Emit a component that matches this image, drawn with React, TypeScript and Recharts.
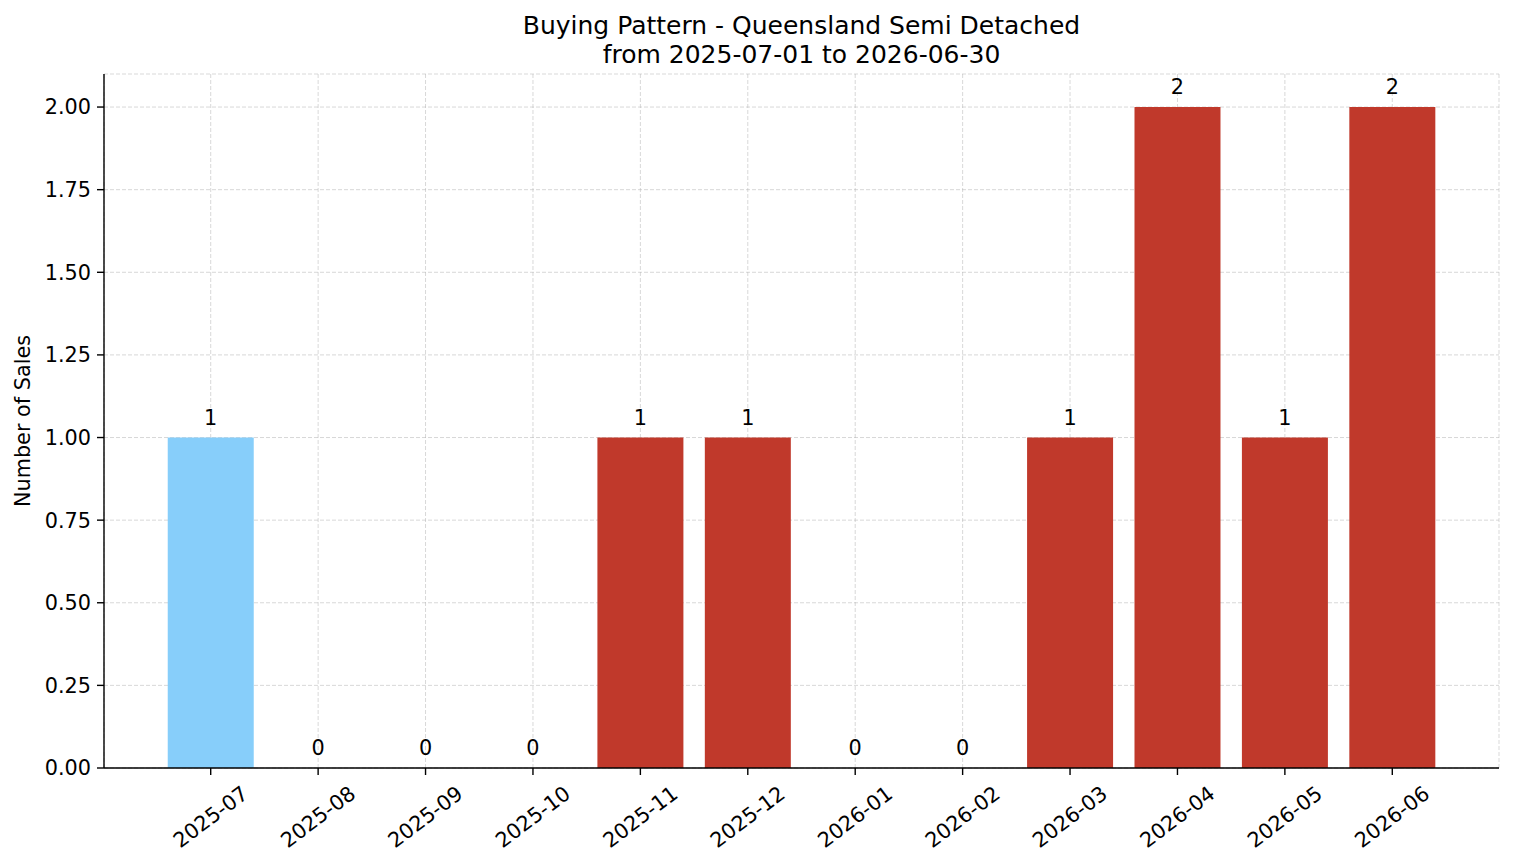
import { ComposedChart, Bar, Line, XAxis, YAxis, CartesianGrid, Cell, LabelList, Label } from 'recharts';

// monthly sales counts
const months = [
  '2025-07', '2025-08', '2025-09', '2025-10', '2025-11', '2025-12',
  '2026-01', '2026-02', '2026-03', '2026-04', '2026-05', '2026-06',
];
const sales = [1, 0, 0, 0, 1, 1, 0, 0, 1, 2, 1, 2];
const yTicks = [0, 0.25, 0.5, 0.75, 1, 1.25, 1.5, 1.75, 2];
const highlightMonth = '2025-07';

const data = months.map((month, i) => ({ month, sales: sales[i] }));

const FONT = '"DejaVu Sans", sans-serif';
const FS = 20.8;
const RED = '#C0392B';
const BLUE = '#87CEFA';

function RotatedTick(props: any) {
  const { x, y, payload } = props;
  const cy = y + 40;
  return (
    <text
      x={x}
      y={cy}
      textAnchor="middle"
      dominantBaseline="central"
      transform={`rotate(-37 ${x} ${cy})`}
      fontSize={FS}
      fontFamily={FONT}
      fill="#000"
    >
      {payload.value}
    </text>
  );
}

function YTitle(props: any) {
  const { viewBox } = props;
  const cy = viewBox.y + viewBox.height / 2;
  return (
    <text
      x={23}
      y={cy}
      textAnchor="middle"
      dominantBaseline="central"
      transform={`rotate(-90 23 ${cy})`}
      fontSize={FS}
      fontFamily={FONT}
      fill="#000"
    >
      Number of Sales
    </text>
  );
}

// label sits just above the bar top (also for the zero months)
function ValueLabel(props: any) {
  const { x, y, value } = props;
  return (
    <text x={x} y={y - 13} textAnchor="middle" fontSize={FS} fontFamily={FONT} fill="#000">
      {value}
    </text>
  );
}

export default function App() {
  return (
    <div style={{ position: 'absolute', left: 0, top: 0, width: 1514, height: 863, background: '#fff', fontFamily: FONT }}>
      <div
        style={{
          position: 'absolute',
          top: 12,
          left: 104,
          width: 1395,
          textAlign: 'center',
          fontSize: 25,
          lineHeight: '28.5px',
          color: '#000',
        }}
      >
        <div>Buying Pattern - Queensland Semi Detached</div>
        <div>from 2025-07-01 to 2026-06-30</div>
      </div>
      <ComposedChart
        width={1514}
        height={863}
        data={data}
        margin={{ top: 74, right: 15, bottom: 0, left: 1 }}
        barCategoryGap="10%"
      >
        <XAxis
          dataKey="month"
          height={95}
          padding={{ left: 53, right: 53 }}
          tickSize={7}
          tickMargin={2}
          tick={<RotatedTick />}
          interval={0}
          axisLine={{ stroke: '#000', strokeWidth: 1.4 }}
          tickLine={{ stroke: '#000', strokeWidth: 1.4 }}
        />
        <YAxis
          width={103}
          domain={[0, 2.1]}
          ticks={yTicks}
          tickFormatter={(v: number) => v.toFixed(2)}
          tickSize={7}
          tickMargin={6}
          tick={{ fill: '#000', fontSize: FS, fontFamily: FONT }}
          axisLine={{ stroke: '#000', strokeWidth: 1.4 }}
          tickLine={{ stroke: '#000', strokeWidth: 1.4 }}
        >
          <Label content={<YTitle />} />
        </YAxis>
        <Bar dataKey="sales" isAnimationActive={false}>
          {data.map((d) => (
            <Cell key={d.month} fill={d.month === highlightMonth ? BLUE : RED} />
          ))}
        </Bar>
        <Line
          dataKey="sales"
          stroke="none"
          dot={false}
          activeDot={false}
          isAnimationActive={false}
          legendType="none"
        >
          <LabelList dataKey="sales" content={<ValueLabel />} />
        </Line>
        <CartesianGrid
          stroke="#b0b0b0"
          strokeOpacity={0.55}
          strokeWidth={0.9}
          strokeDasharray="4 2"
          ticks={yTicks}
        />
      </ComposedChart>
    </div>
  );
}
